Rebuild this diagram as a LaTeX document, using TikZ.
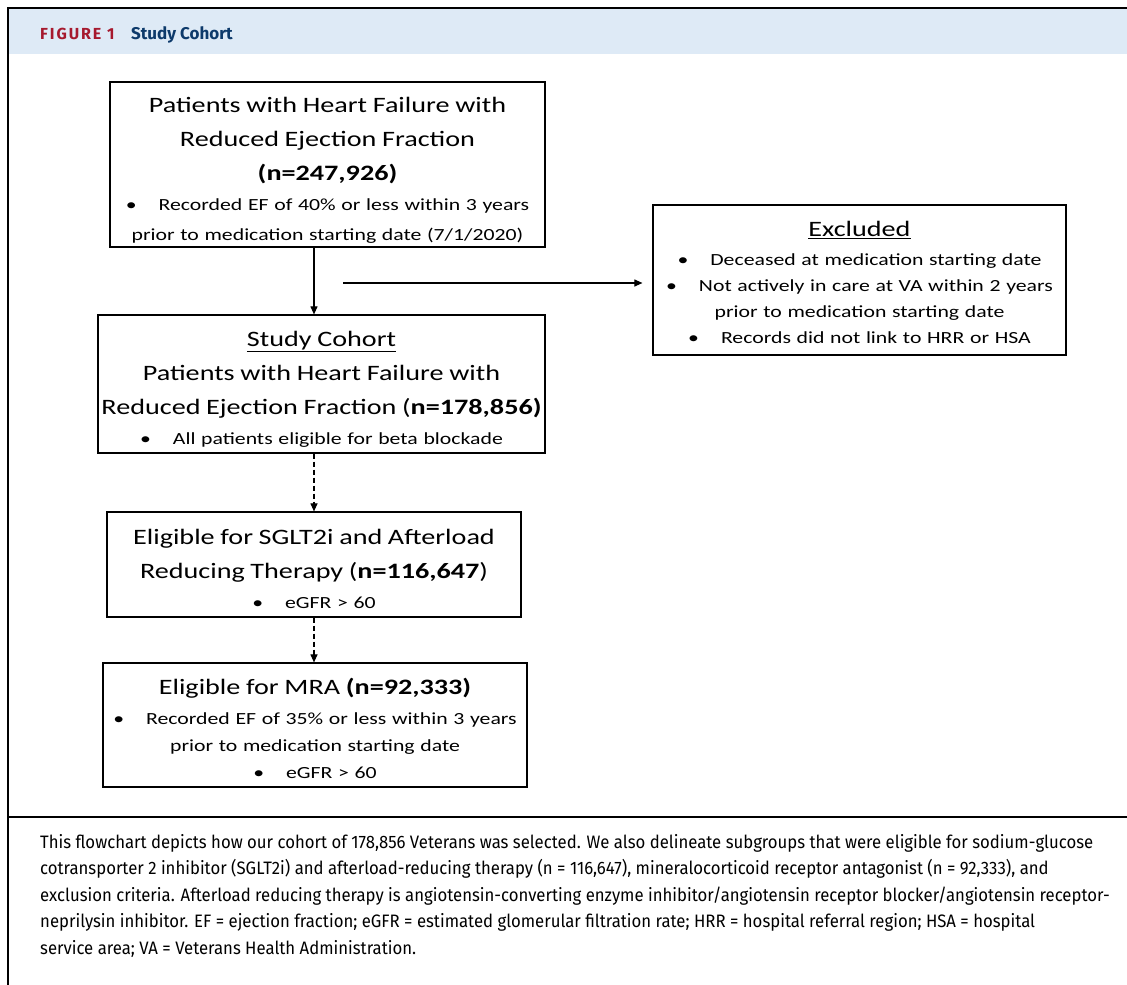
\documentclass[tikz,border=0pt]{standalone}
\usepackage{fontspec}
\usepackage{tikz}
\usetikzlibrary{arrows.meta}

\newfontfamily\boxfont[FakeStretch=1.28]{Carlito}
\newfontfamily\capfont[FakeStretch=0.93]{Fira Sans}
\newfontfamily\headfont{Fira Sans}
\newfontfamily\tagfont[LetterSpace=12]{Fira Sans}

\definecolor{fascia}{HTML}{DEEAF6}
\definecolor{rosso}{HTML}{A6192E}
\definecolor{blu}{HTML}{0D3A6B}

\newcommand{\titolo}{\fontsize{22}{34}\selectfont}
\newcommand{\voce}{\fontsize{17}{27}\selectfont}
\newcommand{\pallino}{\textbullet\hspace{22pt}}
\newcommand{\alza}[1]{\rule{0pt}{#1}}

\begin{document}
\begin{tikzpicture}[x=1pt, y=-1pt,
    scatola/.style={draw, line width=1.2pt, inner sep=4pt, align=center, font=\boxfont\voce},
    freccia/.style={line width=1.1pt, -{Triangle[length=8pt, width=7pt]}}]
              \useasboundingbox (0,0) rectangle (1127,985);
              % cornice e intestazione
              \fill [fascia] (9,9) rectangle (1127,54);
              \draw [line width=2pt] (1127,8) -- (8,8) -- (8,985);
              \draw [line width=1.5pt] (8,817) -- (1127,817);
              \node [anchor=base west, text=rosso, font=\tagfont\bfseries\fontsize{16}{18}\selectfont, inner sep=0pt] (etichetta) at (40,39) {FIGURE 1};
              \node [anchor=base west, text=blu, font=\headfont\bfseries\fontsize{17}{18}\selectfont, inner sep=0pt] (intestazione) at (131,39) {Study Cohort};

              % riquadri
              \node [scatola, font=\boxfont\fontsize{17}{30}\selectfont, minimum width=435, minimum height=163, text width=427] (pazienti) at (327.5,164.5)
                {\titolo\alza{26pt}Patients with Heart Failure with\\ Reduced Ejection Fraction\\ \textbf{(n=247,926)}\par
                 \fontsize{17}{30}\selectfont \pallino Recorded EF of 40\% or less within 3 years\\ prior to medication starting date (7/1/2020)};
              \node [scatola, inner xsep=1pt, minimum width=447, minimum height=138, text width=445] (coorte) at (321.5,384)
                {\titolo\alza{25pt}\underline{Study Cohort}\\ Patients with Heart Failure with\\ Reduced Ejection Fraction (\textbf{n=178,856)}\par\vspace{3pt}
                 \voce \pallino All patients eligible for beta blockade};
              \node [scatola, minimum width=414, minimum height=105, text width=406] (idonei1) at (314,564.5)
                {\titolo\alza{25pt}Eligible for SGLT2i and Afterload\\ Reducing Therapy (\textbf{n=116,647})\par\vspace{3pt}
                 \voce \pallino eGFR > 60};
              \node [scatola, minimum width=424, minimum height=124, text width=416] (idonei2) at (315,725)
                {\titolo\alza{23pt}Eligible for MRA \textbf{(n=92,333)}\par\vspace{3pt}
                 \voce \pallino Recorded EF of 35\% or less within 3 years\\ prior to medication starting date\\ \pallino eGFR > 60};
              \node [scatola, font=\boxfont\fontsize{17}{26}\selectfont, minimum width=413, minimum height=150, text width=405] (esclusi) at (859.5,280)
                {\titolo\alza{20pt}\underline{Excluded}\par\vspace{3pt}
                 \fontsize{17}{26}\selectfont \pallino Deceased at medication starting date\\ \pallino Not actively in care at VA within 2 years\\ prior to medication starting date\\ \pallino Records did not link to HRR or HSA};

              \coordinate (asse) at (314,0);
              \coordinate (uscita) at (343,283);

              \draw [freccia] (pazienti.south -| asse) -- (coorte.north -| asse);
              \draw [freccia, dashed, dash pattern=on 5pt off 3pt] (coorte.south -| asse) -- (idonei1.north -| asse);
              \draw [freccia, dashed, dash pattern=on 5pt off 3pt] (idonei1.south -| asse) -- (idonei2.north -| asse);
              \draw [freccia, shorten >=10pt] (uscita) -- (uscita -| esclusi.west);

              % didascalia
              \node [anchor=north west, align=left, inner sep=0pt, font=\capfont\fontsize{18}{26.5}\selectfont] (didascalia) at (40,834)
                {This flowchart depicts how our cohort of 178,856 Veterans was selected. We also delineate subgroups that were eligible for sodium-glucose\\
                 cotransporter 2 inhibitor (SGLT2i) and afterload-reducing therapy (n = 116,647), mineralocorticoid receptor antagonist (n = 92,333), and\\
                 exclusion criteria. Afterload reducing therapy is angiotensin-converting enzyme inhibitor/angiotensin receptor blocker/angiotensin receptor-\\
                 neprilysin inhibitor. EF = ejection fraction; eGFR = estimated glomerular filtration rate; HRR = hospital referral region; HSA = hospital\\
                 service area; VA = Veterans Health Administration.};
\end{tikzpicture}
\end{document}
